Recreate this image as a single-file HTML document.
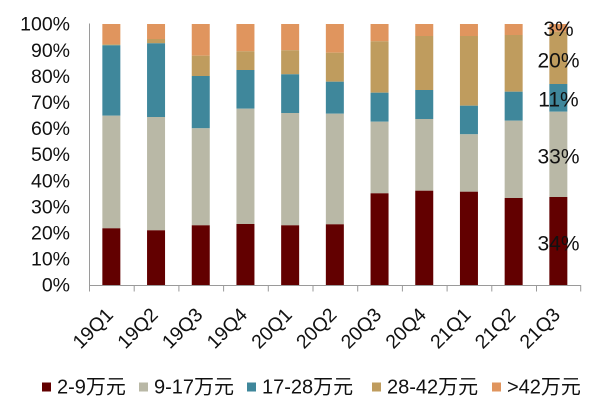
<!DOCTYPE html>
<html>
<head>
<meta charset="utf-8">
<style>
  html, body { margin: 0; padding: 0; background: #fff; }
  svg { display: block; }
  text { font-family: "Liberation Sans", "Noto Sans CJK SC", sans-serif; fill: #111; }
</style>
</head>
<body>
<svg width="600" height="416" viewBox="0 0 600 416" xmlns="http://www.w3.org/2000/svg">
  <!-- Y axis labels -->
  <g font-size="19.5" text-anchor="end">
    <text x="70" y="30.7">100%</text>
    <text x="70" y="56.8">90%</text>
    <text x="70" y="82.9">80%</text>
    <text x="70" y="109.0">70%</text>
    <text x="70" y="135.1">60%</text>
    <text x="70" y="161.2">50%</text>
    <text x="70" y="187.3">40%</text>
    <text x="70" y="213.4">30%</text>
    <text x="70" y="239.5">20%</text>
    <text x="70" y="265.6">10%</text>
    <text x="70" y="291.7">0%</text>
  </g>

  <!-- Bars -->
  <g id="bars">
    <rect x="102.35" y="24" width="18" height="20.3" fill="#E0955E"/>
    <rect x="102.35" y="44.3" width="18" height="1" fill="#BF9C5E"/>
    <rect x="102.35" y="45.3" width="18" height="70.4" fill="#3F879B"/>
    <rect x="102.35" y="115.7" width="18" height="112.6" fill="#B9B8A6"/>
    <rect x="102.35" y="228.3" width="18" height="56.7" fill="#620000"/>

    <rect x="147.05" y="24" width="18" height="15" fill="#E0955E"/>
    <rect x="147.05" y="39" width="18" height="4.3" fill="#BF9C5E"/>
    <rect x="147.05" y="43.3" width="18" height="73.7" fill="#3F879B"/>
    <rect x="147.05" y="117" width="18" height="113.3" fill="#B9B8A6"/>
    <rect x="147.05" y="230.3" width="18" height="54.7" fill="#620000"/>

    <rect x="191.75" y="24" width="18" height="31.7" fill="#E0955E"/>
    <rect x="191.75" y="55.7" width="18" height="20.3" fill="#BF9C5E"/>
    <rect x="191.75" y="76" width="18" height="52.3" fill="#3F879B"/>
    <rect x="191.75" y="128.3" width="18" height="97" fill="#B9B8A6"/>
    <rect x="191.75" y="225.3" width="18" height="59.7" fill="#620000"/>

    <rect x="236.45" y="24" width="18" height="27.3" fill="#E0955E"/>
    <rect x="236.45" y="51.3" width="18" height="18.7" fill="#BF9C5E"/>
    <rect x="236.45" y="70" width="18" height="38.7" fill="#3F879B"/>
    <rect x="236.45" y="108.7" width="18" height="115.3" fill="#B9B8A6"/>
    <rect x="236.45" y="224" width="18" height="61" fill="#620000"/>

    <rect x="281.15" y="24" width="18" height="26.3" fill="#E0955E"/>
    <rect x="281.15" y="50.3" width="18" height="24" fill="#BF9C5E"/>
    <rect x="281.15" y="74.3" width="18" height="38.7" fill="#3F879B"/>
    <rect x="281.15" y="113" width="18" height="112.3" fill="#B9B8A6"/>
    <rect x="281.15" y="225.3" width="18" height="59.7" fill="#620000"/>

    <rect x="325.85" y="24" width="18" height="28.7" fill="#E0955E"/>
    <rect x="325.85" y="52.7" width="18" height="29" fill="#BF9C5E"/>
    <rect x="325.85" y="81.7" width="18" height="32" fill="#3F879B"/>
    <rect x="325.85" y="113.7" width="18" height="110.6" fill="#B9B8A6"/>
    <rect x="325.85" y="224.3" width="18" height="60.7" fill="#620000"/>

    <rect x="370.55" y="24" width="18" height="17.3" fill="#E0955E"/>
    <rect x="370.55" y="41.3" width="18" height="51.4" fill="#BF9C5E"/>
    <rect x="370.55" y="92.7" width="18" height="29" fill="#3F879B"/>
    <rect x="370.55" y="121.7" width="18" height="71.6" fill="#B9B8A6"/>
    <rect x="370.55" y="193.3" width="18" height="91.7" fill="#620000"/>

    <rect x="415.25" y="24" width="18" height="12" fill="#E0955E"/>
    <rect x="415.25" y="36" width="18" height="54" fill="#BF9C5E"/>
    <rect x="415.25" y="90" width="18" height="29" fill="#3F879B"/>
    <rect x="415.25" y="119" width="18" height="71.7" fill="#B9B8A6"/>
    <rect x="415.25" y="190.7" width="18" height="94.3" fill="#620000"/>

    <rect x="459.95" y="24" width="18" height="12" fill="#E0955E"/>
    <rect x="459.95" y="36" width="18" height="69.7" fill="#BF9C5E"/>
    <rect x="459.95" y="105.7" width="18" height="28.6" fill="#3F879B"/>
    <rect x="459.95" y="134.3" width="18" height="57.4" fill="#B9B8A6"/>
    <rect x="459.95" y="191.7" width="18" height="93.3" fill="#620000"/>

    <rect x="504.65" y="24" width="18" height="11" fill="#E0955E"/>
    <rect x="504.65" y="35" width="18" height="56.7" fill="#BF9C5E"/>
    <rect x="504.65" y="91.7" width="18" height="29" fill="#3F879B"/>
    <rect x="504.65" y="120.7" width="18" height="77.3" fill="#B9B8A6"/>
    <rect x="504.65" y="198" width="18" height="87" fill="#620000"/>

    <rect x="549.35" y="24" width="18" height="7.8" fill="#E0955E"/>
    <rect x="549.35" y="31.8" width="18" height="52.2" fill="#BF9C5E"/>
    <rect x="549.35" y="84" width="18" height="27.7" fill="#3F879B"/>
    <rect x="549.35" y="111.7" width="18" height="85.3" fill="#B9B8A6"/>
    <rect x="549.35" y="197" width="18" height="88" fill="#620000"/>
  </g>

  <!-- Axes -->
  <g stroke="#9a9a9a" stroke-width="1" fill="none">
    <line x1="89.5" y1="23.5" x2="89.5" y2="285.5"/>
    <line x1="89" y1="285.5" x2="581" y2="285.5"/>
    <line x1="89.5" y1="285" x2="89.5" y2="291.5"/>
    <line x1="134.2" y1="285" x2="134.2" y2="291.5"/>
    <line x1="178.9" y1="285" x2="178.9" y2="291.5"/>
    <line x1="223.6" y1="285" x2="223.6" y2="291.5"/>
    <line x1="268.3" y1="285" x2="268.3" y2="291.5"/>
    <line x1="313.0" y1="285" x2="313.0" y2="291.5"/>
    <line x1="357.7" y1="285" x2="357.7" y2="291.5"/>
    <line x1="402.4" y1="285" x2="402.4" y2="291.5"/>
    <line x1="447.1" y1="285" x2="447.1" y2="291.5"/>
    <line x1="491.8" y1="285" x2="491.8" y2="291.5"/>
    <line x1="536.5" y1="285" x2="536.5" y2="291.5"/>
    <line x1="580.7" y1="285" x2="580.7" y2="291.5"/>
  </g>

  <!-- X labels -->
  <g font-size="19.5" text-anchor="end">
    <text transform="translate(114.35,316) rotate(-45)">19Q1</text>
    <text transform="translate(159.05,316) rotate(-45)">19Q2</text>
    <text transform="translate(203.75,316) rotate(-45)">19Q3</text>
    <text transform="translate(248.45,316) rotate(-45)">19Q4</text>
    <text transform="translate(293.15,316) rotate(-45)">20Q1</text>
    <text transform="translate(337.85,316) rotate(-45)">20Q2</text>
    <text transform="translate(382.55,316) rotate(-45)">20Q3</text>
    <text transform="translate(427.25,316) rotate(-45)">20Q4</text>
    <text transform="translate(471.95,316) rotate(-45)">21Q1</text>
    <text transform="translate(516.65,316) rotate(-45)">21Q2</text>
    <text transform="translate(561.35,316) rotate(-45)">21Q3</text>
  </g>

  <!-- Right data labels -->
  <g font-size="21" text-anchor="middle">
    <text x="558.5" y="36">3%</text>
    <text x="558.5" y="67.3">20%</text>
    <text x="558.5" y="106.7">11%</text>
    <text x="558.5" y="163.3">33%</text>
    <text x="558.5" y="250.7">34%</text>
  </g>

  <!-- Legend -->
  <g font-size="20">
    <rect x="42" y="382.5" width="9" height="9" fill="#620000"/>
    <text x="57" y="393.5">2-9万元</text>
    <rect x="139" y="382.5" width="9" height="9" fill="#B9B8A6"/>
    <text x="154" y="393.5">9-17万元</text>
    <rect x="247" y="382.5" width="9" height="9" fill="#3F879B"/>
    <text x="262" y="393.5">17-28万元</text>
    <rect x="372" y="382.5" width="9" height="9" fill="#BF9C5E"/>
    <text x="387" y="393.5">28-42万元</text>
    <rect x="492" y="382.5" width="9" height="9" fill="#E0955E"/>
    <text x="507" y="393.5">&gt;42万元</text>
  </g>
</svg>
</body>
</html>
